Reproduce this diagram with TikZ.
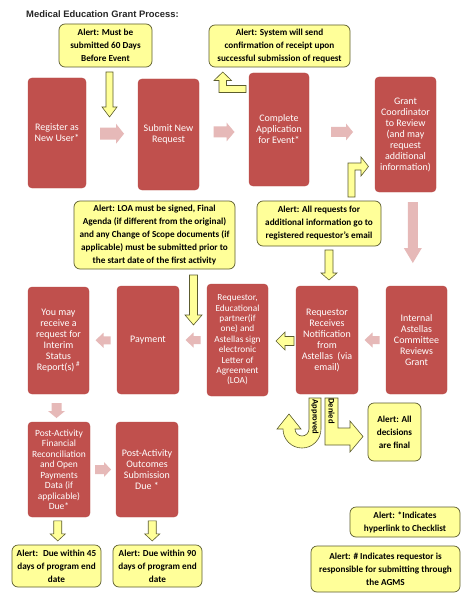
\documentclass[tikz,border=0pt]{standalone}
\usepackage{fontspec}
\setmainfont{Carlito}
\newfontfamily\titlefont{Liberation Sans}
\usetikzlibrary{calc}
\definecolor{boxred}{HTML}{C0504D}
\definecolor{boxedge}{HTML}{B84A47}
\definecolor{pinkarr}{HTML}{E6B9B8}
\definecolor{alertfill}{HTML}{FFFF99}
\definecolor{alertedge}{HTML}{5C5C2E}
\definecolor{titlegray}{HTML}{262626}
\tikzset{
  redbox/.style={fill=boxred, draw=boxedge, line width=0.4pt, rounded corners=4pt, text=white, align=center, inner sep=1pt, font=\fontsize{10}{11}\selectfont},
  alertbox/.style={fill=alertfill, draw=alertedge, line width=0.7pt, rounded corners=6pt, align=center, inner sep=1pt, font=\bfseries\fontsize{9.2}{13}\selectfont},
  pinkarrow/.style={fill=pinkarr, draw=none},
  yellowarrow/.style={fill=alertfill, draw=alertedge, line width=0.6pt, line join=miter},
  bentarrow/.style={fill=alertfill, draw=alertedge, line width=0.6pt, line join=miter},
  decision/.style={font=\bfseries\fontsize{8.5}{9}\selectfont, rotate=-90, inner sep=0pt},
}
% #1 style, #2 centre coordinate name, #3 angle, #4 length, #5 head width, #6 shaft width, #7 head length
\newcommand{\blockarr}[7]{%
  \begin{scope}[shift={(#2)}, rotate=#3]
    \path[#1] ({-#4/2},{-#6/2}) -- ({#4/2-#7},{-#6/2}) -- ({#4/2-#7},{-#5/2}) -- ({#4/2},0)
      -- ({#4/2-#7},{#5/2}) -- ({#4/2-#7},{#6/2}) -- ({-#4/2},{#6/2}) -- cycle;
  \end{scope}}
\begin{document}
\begin{tikzpicture}[x=1pt, y=-1pt]
\fill[white] (0,0) rectangle (474,604);
\useasboundingbox (0,0) rectangle (474,604);

\node[anchor=west, font=\titlefont\bfseries\fontsize{9.4}{11}\selectfont, text=titlegray, inner sep=0pt] (title) at (26,14) {Medical Education Grant Process:};

% red process boxes
\node[redbox, minimum width=58pt, minimum height=110pt] (reg) at (57,133) {Register as\\New User*};
\node[redbox, minimum width=61pt, minimum height=111pt] (sub) at (168.5,134.5) {Submit New\\Request};
\node[redbox, minimum width=60pt, minimum height=113pt] (comp) at (279,129.5) {Complete\\Application\\for Event*};
\node[redbox, minimum width=61pt, minimum height=115pt] (grant) at (405.5,134.5) {Grant\\Coordinator\\to Review\\(and may\\request\\additional\\information)};

\node[redbox, minimum width=61pt, minimum height=107pt] (youmay) at (58.5,340.5) {You may\\receive a\\request for\\Interim\\Status\\Report(s)\,\textsuperscript{\#}};
\node[redbox, minimum width=62pt, minimum height=108pt] (pay) at (148,340) {Payment};
\node[redbox, minimum width=61pt, minimum height=112pt, font=\fontsize{9.3}{10.4}\selectfont] (reqedu) at (237.5,340) {Requestor,\\Educational\\partner(if\\one) and\\Astellas sign\\electronic\\Letter of\\Agreement\\(LOA)};
\node[redbox, minimum width=62pt, minimum height=108pt] (reqrec) at (327,340) {Requestor\\Receives\\Notification\\from\\Astellas~ (via\\email)};
\node[redbox, minimum width=61pt, minimum height=108pt] (internal) at (416.5,340) {Internal\\Astellas\\Committee\\Reviews\\Grant};

\node[redbox, minimum width=62pt, minimum height=95pt, font=\fontsize{9.5}{10.5}\selectfont] (postfin) at (59,469.5) {Post-Activity\\Financial\\Reconciliation\\and Open\\Payments\\Data (if\\applicable)\\Due*};
\node[redbox, minimum width=62pt, minimum height=95pt] (postout) at (147,469.5) {Post-Activity\\Outcomes\\Submission\\Due *};

% alerts
\node[alertbox, minimum width=93pt, minimum height=43pt] (a60) at (105.5,45.5) {Alert: Must be\\submitted 60 Days\\Before Event};
\node[alertbox, minimum width=141pt, minimum height=42pt] (asys) at (279.5,46) {Alert: System will send\\confirmation of receipt upon\\successful submission of request};
\node[alertbox, minimum width=161pt, minimum height=68pt] (aloa) at (154.5,235) {Alert: LOA must be signed, Final\\Agenda (if different from the original)\\and any Change of Scope documents (if\\applicable) must be submitted prior to\\the start date of the first activity};
\node[alertbox, minimum width=124pt, minimum height=45pt] (areq) at (319,223.5) {Alert: All requests for\\additional information go to\\registered requestor's email};
\node[alertbox, minimum width=53pt, minimum height=58pt] (adec) at (394.5,432) {Alert: All\\decisions\\are final};
\node[alertbox, minimum width=110pt, minimum height=30pt] (astar) at (405,522) {Alert: *Indicates\\hyperlink to Checklist};
\node[alertbox, minimum width=149pt, minimum height=46pt] (ahash) at (385.5,569) {Alert: \# Indicates requestor is\\responsible for submitting through\\the AGMS};
\node[alertbox, minimum width=89pt, minimum height=42pt] (a45) at (56.5,566) {Alert:~ Due within 45\\days of program end\\date};
\node[alertbox, minimum width=89pt, minimum height=42pt] (a90) at (157.5,566) {Alert: Due within 90\\days of program end\\date};

% centres of block arrows
\coordinate (pa1) at ($(reg.east)!0.5!(sub.west)$);
\coordinate (pa2) at ($(sub.east)!0.5!(comp.west)$);
\coordinate (pa3) at ($(comp.east)!0.5!(grant.west)$);
\coordinate (pa4) at (412.8,232.5);
\coordinate (pa5) at ($(youmay.east)!0.5!(pay.west)$);
\coordinate (pa6) at ($(pay.east)!0.5!(reqedu.west)$);
\coordinate (pa7) at ($(reqrec.east)!0.5!(internal.west)$);
\coordinate (pa8) at (56.5,410.5);
\coordinate (pa9) at ($(postfin.east)!0.5!(postout.west)$);
\coordinate (ya1) at (109.5,94.5);
\coordinate (ya2) at (193.5,300);
\coordinate (ya3) at (329,265);
\coordinate (ya4) at (285,341);
\coordinate (ya5) at ($(postfin.south)!0.5!(a45.north)$);
\coordinate (ya6) at ($(postout.south)!0.5!(a90.north)$);

% pink block arrows
\blockarr{pinkarrow}{pa1}{0}{24}{20}{12}{8}
\blockarr{pinkarrow}{pa2}{0}{21}{19}{11}{8}
\blockarr{pinkarrow}{pa3}{0}{22}{17}{10}{7}
\blockarr{pinkarrow}{pa4}{-90}{61}{18}{10}{15}
\blockarr{pinkarrow}{pa5}{180}{15}{15}{8}{8}
\blockarr{pinkarrow}{pa6}{180}{15}{15}{8}{8}
\blockarr{pinkarrow}{pa7}{180}{15}{15}{8}{8}
\blockarr{pinkarrow}{pa8}{-90}{15}{17}{10}{7}
\blockarr{pinkarrow}{pa9}{0}{16}{15}{9}{7}

% yellow block arrows
\blockarr{yellowarrow}{ya1}{-90}{45}{15}{7}{10}
\blockarr{yellowarrow}{ya2}{-90}{50}{17}{8}{10}
\blockarr{yellowarrow}{ya3}{-90}{30}{16}{8}{7}
\blockarr{yellowarrow}{ya4}{180}{18}{18}{9}{9}
\blockarr{yellowarrow}{ya5}{-90}{20}{15}{8}{7}
\blockarr{yellowarrow}{ya6}{-90}{20}{15}{8}{7}

% bent arrows
\draw[bentarrow] (222.75,72) -- (231.5,80.5) -- (226.5,80.5) -- (226.5,85.5) -- (246,85.5) -- (246,92.5) -- (219,92.5) -- (219,80.5) -- (214,80.5) -- cycle;
\draw[bentarrow] (348,197) -- (348,163) -- (361,163) -- (361,157) -- (368.5,166.5) -- (361,176) -- (361,170) -- (355,170) -- (355,197) -- cycle;

% approved U-turn
\draw[bentarrow] (309,398) -- (321,398) -- (321,429) arc[start angle=0, end angle=-180, radius=19pt] -- (277,429) -- (289,414) -- (301,429) -- (295,429) arc[start angle=180, end angle=360, radius=7pt] -- cycle;
% denied
\draw[bentarrow] (325,398) -- (338,398) -- (338,428) -- (350,428) -- (350,421) -- (363,436.5) -- (350,452) -- (350,445) -- (325,445) -- cycle;
\node[decision] (appr) at (315,417) {Approved};
\node[decision] (deny) at (331.5,411) {Denied};
\end{tikzpicture}
\end{document}
